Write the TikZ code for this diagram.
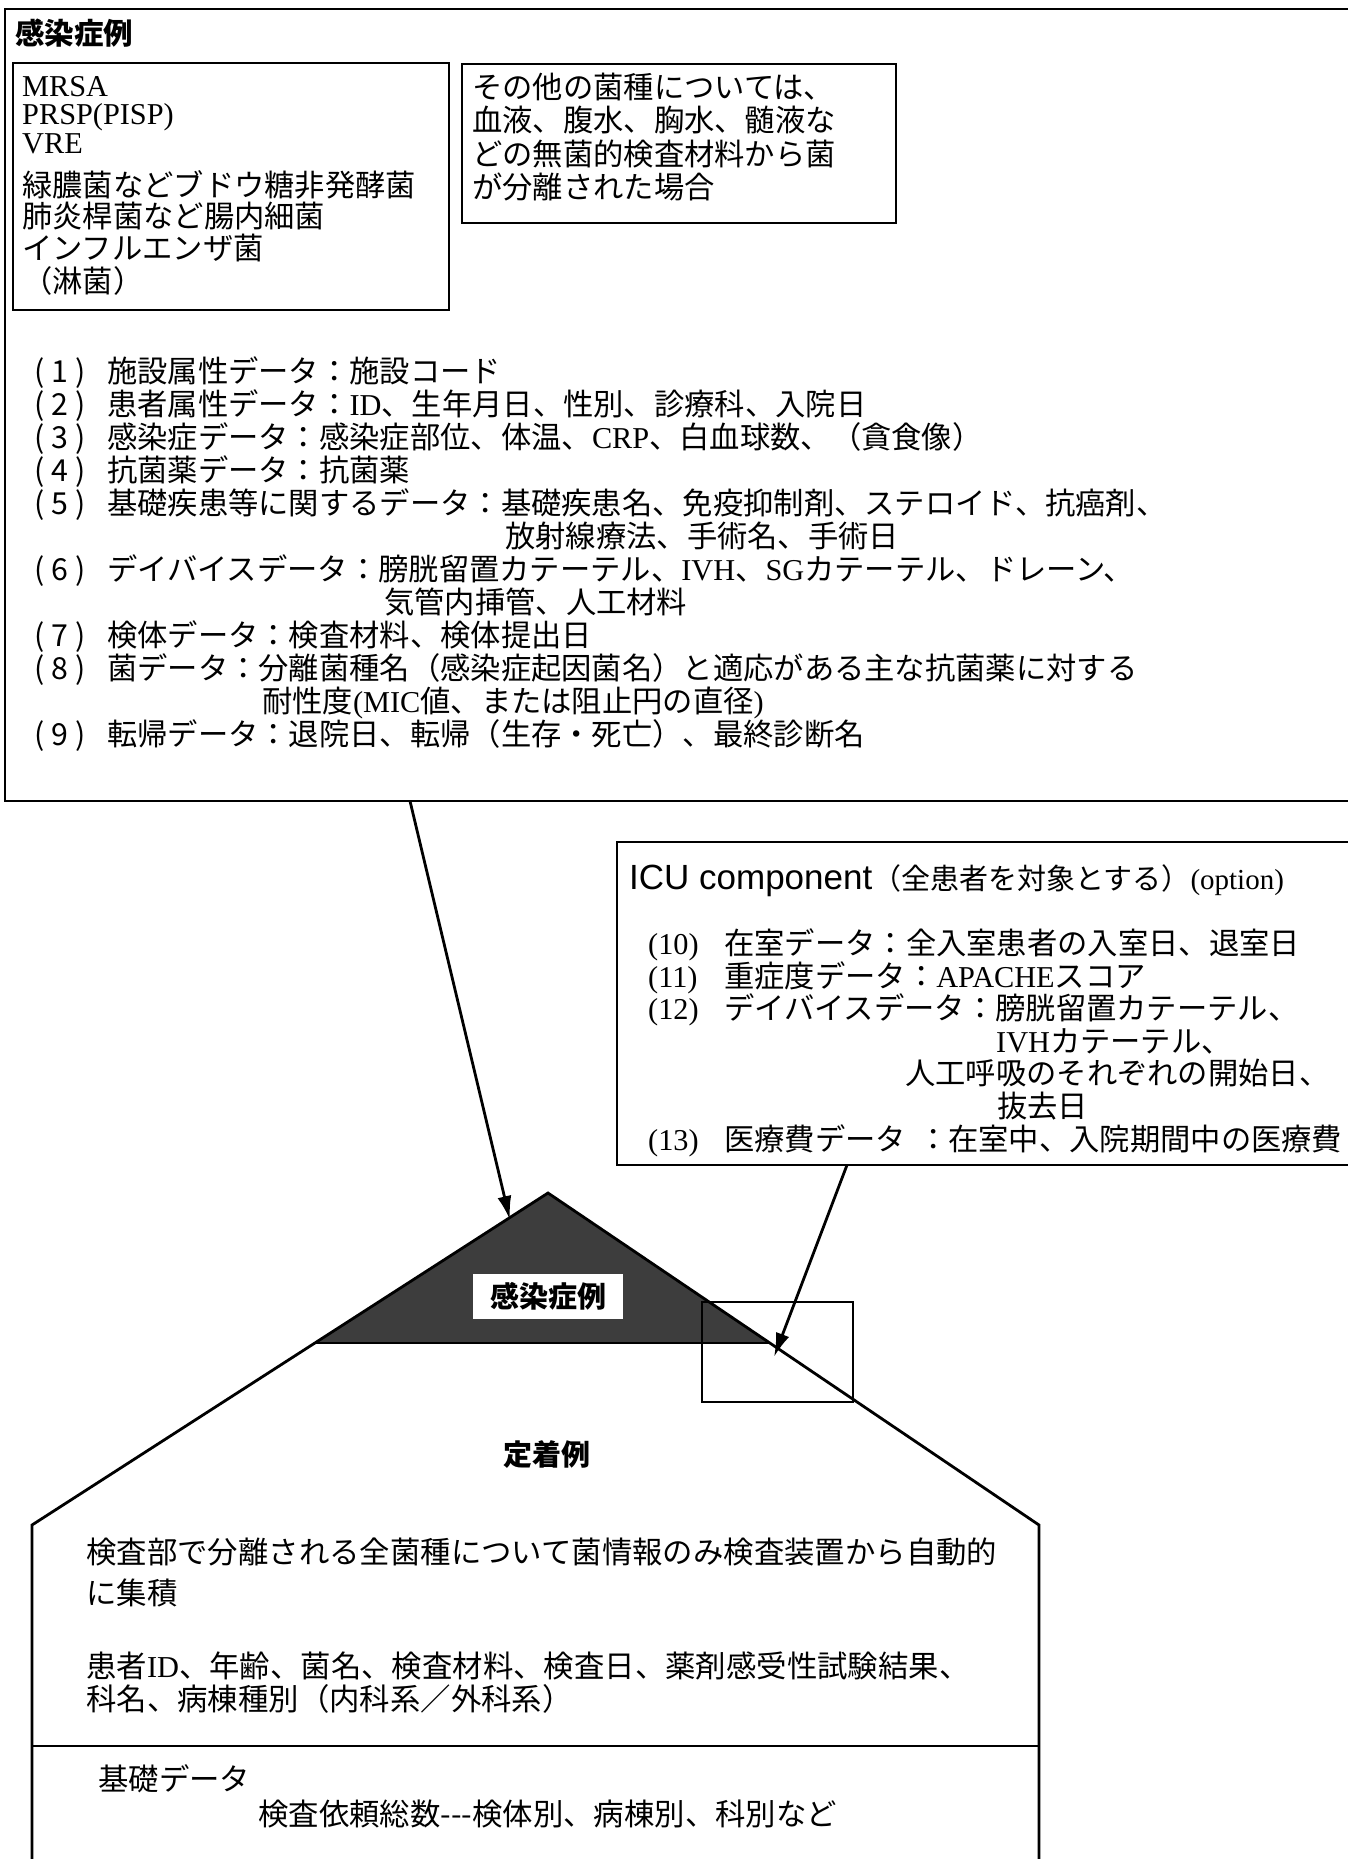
\documentclass[tikz,border=0pt]{standalone}
\usepackage{fontspec}
\setmainfont{Liberation Serif}
\setsansfont{Liberation Sans}
\newfontfamily\jp{Noto Sans CJK JP}
\usetikzlibrary{arrows.meta}
\newcommand{\latn}[1]{{\rmfamily #1}}
\newcommand{\pn}[1]{\makebox[73pt][l]{(\hspace{7pt}#1\hspace{7pt})}}
\newcommand{\ipn}[1]{\makebox[76pt][l]{\latn{(#1)}}}
\begin{document}
\begin{tikzpicture}[x=1pt,y=-1pt,
  jt/.style={anchor=base west, inner sep=0pt, font=\jp\fontsize{30.3}{33}\selectfont},
  jb/.style={anchor=base west, inner sep=0pt, font=\jp\fontsize{30.4}{33}\selectfont},
  frame/.style={draw, line width=2.8pt},
  conn/.style={line width=2.8pt, -{Latex[length=24pt,width=14pt]}},
  lbl/.style={inner sep=0pt, font=\jp\bfseries\fontsize{29}{32}\selectfont}]
\useasboundingbox (0,0) rectangle (1347,1859);

% ---------- top box ----------
\draw[frame] (5,9) rectangle (1365,801);
\node[jt, font=\jp\bfseries\fontsize{29.5}{32}\selectfont] (title) at (15,45) {感染症例};

\draw[frame] (13,63) rectangle (449,310);
\node[jt] (m1) at (22,97) {\latn{MRSA}};
\node[jt] (m2) at (22,125) {\latn{PRSP(PISP)}};
\node[jt] (m3) at (22,154) {\latn{VRE}};
\node[jt] (m4) at (22,197) {緑膿菌などブドウ糖非発酵菌};
\node[jt] (m5) at (22,228) {肺炎桿菌など腸内細菌};
\node[jt] (m6) at (22,260) {インフルエンザ菌};
\node[jt] (m7) at (22,293) {（淋菌）};

\draw[frame] (462,64) rectangle (896,223);
\node[jt] (o1) at (472,99) {その他の菌種については、};
\node[jt] (o2) at (472,132) {血液、腹水、胸水、髄液な};
\node[jt] (o3) at (472,166) {どの無菌的検査材料から菌};
\node[jt] (o4) at (472,199) {が分離された場合};

\node[jt] (p1) at (34,382) {\pn{1}施設属性データ：施設コード};
\node[jt] (p2) at (34,415) {\pn{2}患者属性データ：\latn{ID}、生年月日、性別、診療科、入院日};
\node[jt] (p3) at (34,448) {\pn{3}感染症データ：感染症部位、体温、\latn{CRP}、白血球数、（貪食像）};
\node[jt] (p4) at (34,481) {\pn{4}抗菌薬データ：抗菌薬};
\node[jt] (p5) at (34,514) {\pn{5}基礎疾患等に関するデータ：基礎疾患名、免疫抑制剤、ステロイド、抗癌剤、};
\node[jt] (p5b) at (505,547) {放射線療法、手術名、手術日};
\node[jt] (p6) at (34,580) {\pn{6}デイバイスデータ：膀胱留置カテーテル、\latn{IVH}、\latn{SG}カテーテル、ドレーン、};
\node[jt] (p6b) at (384,613) {気管内挿管、人工材料};
\node[jt] (p7) at (34,646) {\pn{7}検体データ：検査材料、検体提出日};
\node[jt] (p8) at (34,679) {\pn{8}菌データ：分離菌種名（感染症起因菌名）と適応がある主な抗菌薬に対する};
\node[jt] (p8b) at (262,712) {耐性度\latn{(MIC}値、または阻止円の直径\latn{)}};
\node[jt] (p9) at (34,745) {\pn{9}転帰データ：退院日、転帰（生存・死亡）、最終診断名};

% ---------- ICU box ----------
\draw[frame] (617,842) rectangle (1365,1165);
\node[anchor=base west, inner sep=0pt, font=\sffamily\fontsize{35}{38}\selectfont] (icuh) at (629,889)
  {ICU component{\jp\fontsize{29}{33}\selectfont （全患者を対象とする）}{\rmfamily\fontsize{29}{33}\selectfont (option)}};
\node[jt] (i10) at (648,954) {\ipn{10}在室データ：全入室患者の入室日、退室日};
\node[jt] (i11) at (648,987) {\ipn{11}重症度データ：\latn{APACHE}スコア};
\node[jt] (i12) at (648,1019) {\ipn{12}デイバイスデータ：膀胱留置カテーテル、};
\node[jt] (i12b) at (996,1052) {\latn{IVH}カテーテル、};
\node[jt] (i12c) at (905,1084) {人工呼吸のそれぞれの開始日、};
\node[jt] (i12d) at (997,1117) {抜去日};
\node[jt] (i13) at (648,1150) {\ipn{13}医療費データ\hspace{12pt}：在室中、入院期間中の医療費};

% ---------- house / triangle ----------
\coordinate (apex) at (548,1193);
\coordinate (bl) at (315,1343);
\coordinate (br) at (770,1343);
\coordinate (cl) at (32,1525);
\coordinate (cr) at (1039,1525);
\fill[black!76] (apex) -- (bl) -- (br) -- cycle;
\draw[line width=2.8pt] (bl) -- (br);
\draw[line width=2.8pt, line join=miter] (32,1875) -- (cl) -- (apex) -- (cr) -- (1039,1875);
\draw[line width=2.8pt] (32,1746) -- (1039,1746);

\node[lbl, fill=white, minimum width=150pt, minimum height=45pt] (inf) at (548,1296) {感染症例};
\draw[line width=2.2pt] (702,1302) rectangle (853,1402);
\node[lbl] (tei) at (547,1455) {定着例};

\node[jb] (b1) at (86,1563) {検査部で分離される全菌種について菌情報のみ検査装置から自動的};
\node[jb] (b2) at (86,1604) {に集積};
\node[jb] (b3) at (86,1677) {患者\latn{ID}、年齢、菌名、検査材料、検査日、薬剤感受性試験結果、};
\node[jb] (b4) at (86,1710) {科名、病棟種別（内科系／外科系）};
\node[jb] (b5) at (98,1790) {基礎データ};
\node[jb] (b6) at (258,1825) {検査依頼総数---検体別、病棟別、科別など};

% ---------- connectors ----------
\coordinate (a1s) at (410,801);
\coordinate (a1e) at (510,1220);
\coordinate (a2s) at (847,1165);
\coordinate (a2e) at (774,1357);
\draw[conn] (a1s) -- (a1e);
\draw[conn] (a2s) -- (a2e);
\end{tikzpicture}
\end{document}
